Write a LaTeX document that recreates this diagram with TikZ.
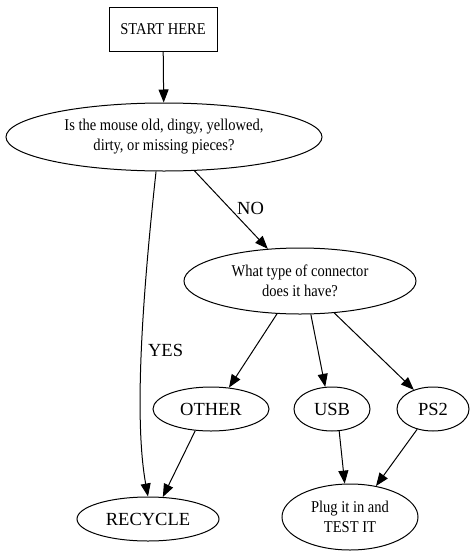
\documentclass[tikz,border=0pt]{standalone}
\usepackage{fontspec}
\setmainfont{Liberation Serif}
\newfontfamily\narrowfont[FakeStretch=0.88]{Liberation Serif}
\usetikzlibrary{arrows.meta,shapes.geometric}

\begin{document}
\begin{tikzpicture}[x=1pt,y=-1pt,line width=1pt,>={Triangle[length=13pt,width=10pt]},
  qbox/.style={draw,ellipse,inner sep=0pt,align=center,font=\narrowfont\fontsize{16.5}{20}\selectfont},
  endbox/.style={draw,ellipse,inner sep=0pt,font=\fontsize{18.5}{22}\selectfont},
  lbl/.style={font=\fontsize{18.5}{22}\selectfont,inner sep=0pt}]
\useasboundingbox (0,0) rectangle (475,560);
\node[draw,rectangle,minimum width=108pt,minimum height=44pt,font=\narrowfont\fontsize{16.5}{20}\selectfont] (start) at (163,29) {START HERE};
\node[qbox,minimum width=316pt,minimum height=68pt] (old) at (164,137) {Is the mouse old, dingy, yellowed,\\dirty, or missing pieces?};
\node[qbox,minimum width=232pt,minimum height=66pt] (type) at (300,281) {What type of connector\\does it have?};
\node[endbox,minimum width=116pt,minimum height=44pt] (other) at (211,409) {OTHER};
\node[endbox,minimum width=76pt,minimum height=44pt] (usb) at (332,409) {USB};
\node[endbox,minimum width=72pt,minimum height=44pt] (ps2) at (433,409) {PS2};
\node[endbox,minimum width=142pt,minimum height=44pt] (recycle) at (148,519) {RECYCLE};
\node[qbox,minimum width=136pt,minimum height=66pt] (test) at (350,517) {Plug it in and\\TEST IT};
% edges
\draw[->] (start) -- (old);
\draw[->] (old.-48) -- node[lbl,pos=0.48,right=7pt] {NO} (type.135);
\draw[->] (old.-103) .. controls (142,300) and (134,420) .. node[lbl,pos=0.49,right=6pt] {YES} (recycle.north);
\draw[->] (type.-125) -- (other.50);
\draw[->] (type.-72) -- (usb.107);
\draw[->] (type.-43) -- (ps2.135);
\draw[->] (other.-126) -- (recycle.56);
\draw[->] (usb.-72) -- (test.99);
\draw[->] (ps2.-128) -- (test.50);
\end{tikzpicture}
\end{document}
